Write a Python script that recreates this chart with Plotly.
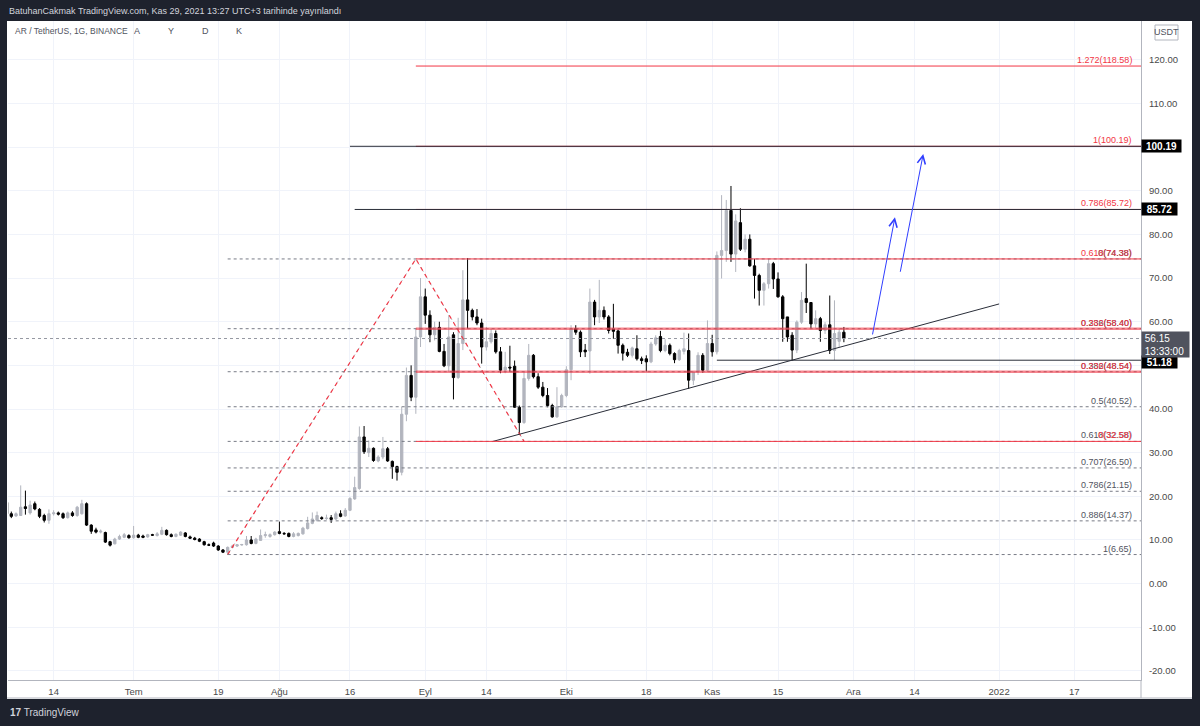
import plotly.graph_objects as go
import pandas as pd

# ---------------- candle data: AR / TetherUS, 1D, Jun 4 - Nov 29 2021 (open, high, low, close) ----------------
jun = [(18.6, 19.2, 15.5, 16.0), (16.0, 16.5, 15.0, 15.4), (15.5, 16.3, 15.3, 16.0), (15.6, 22.5, 15.5, 17.5),
       (17.6, 21.3, 15.8, 17.2), (16.2, 19.0, 15.8, 18.0), (18.3, 18.8, 16.8, 17.1), (17.0, 17.3, 15.0, 15.4),
       (15.6, 16.0, 14.0, 14.5), (14.5, 17.0, 13.7, 16.0), (16.0, 16.8, 15.6, 16.2), (16.2, 16.5, 15.6, 15.9),
       (16.0, 16.3, 14.8, 15.1), (15.1, 16.5, 14.9, 16.2), (16.2, 16.6, 15.3, 15.6), (15.6, 17.8, 15.3, 17.5),
       (16.0, 19.2, 15.8, 18.3), (18.3, 18.6, 13.2, 13.4), (13.4, 13.6, 11.4, 12.0), (12.3, 12.8, 11.5, 11.8),
       (11.8, 12.4, 11.5, 12.0), (11.7, 11.9, 9.3, 9.5), (9.6, 9.8, 8.5, 8.8), (9.1, 10.5, 9.0, 10.2),
       (10.2, 11.2, 10.0, 10.8), (10.6, 11.6, 10.4, 11.2), (11.0, 11.3, 10.3, 10.5)]
jul = [(10.5, 13.2, 10.3, 11.1), (11.1, 11.4, 10.4, 10.6), (10.9, 11.2, 10.4, 10.6), (10.7, 11.4, 10.5, 11.2),
       (11.2, 11.4, 10.9, 11.1), (11.0, 11.8, 10.8, 11.4), (11.3, 13.0, 11.1, 12.2), (12.2, 12.4, 11.0, 11.2),
       (11.2, 11.5, 10.6, 10.8), (10.8, 11.5, 10.6, 11.3), (11.1, 12.0, 10.9, 11.8), (11.6, 11.8, 10.6, 10.8),
       (10.7, 11.0, 10.2, 10.4), (10.4, 10.7, 9.9, 10.1), (10.2, 10.4, 9.5, 9.7), (9.6, 9.8, 8.7, 8.9),
       (8.9, 9.2, 8.6, 8.8), (9.3, 9.6, 8.4, 8.6), (8.6, 8.8, 7.5, 7.7), (7.7, 7.9, 7.0, 7.2),
       (7.2, 8.5, 6.65, 8.3), (8.3, 8.9, 8.1, 8.6), (8.6, 9.0, 8.4, 8.9), (8.85, 9.1, 8.7, 8.95),
       (8.9, 10.9, 8.7, 10.0), (10.0, 10.9, 9.0, 9.2), (9.2, 10.5, 9.0, 10.2), (9.9, 12.4, 9.8, 11.0),
       (11.0, 11.9, 10.5, 11.2), (10.8, 11.5, 10.5, 11.2), (11.2, 12.0, 11.0, 11.8)]
aug = [(11.9, 14.2, 11.3, 11.5), (11.5, 11.8, 11.2, 11.4), (11.5, 11.7, 10.6, 10.8), (10.8, 11.8, 10.6, 11.4),
       (11.0, 11.7, 10.8, 11.5), (11.4, 13.0, 11.2, 12.7), (12.6, 15.3, 12.4, 13.9), (13.8, 16.3, 13.6, 14.8),
       (14.5, 16.5, 14.2, 15.6), (15.1, 15.4, 14.6, 14.9), (14.9, 15.8, 14.6, 15.0), (15.1, 15.7, 13.9, 14.7),
       (14.8, 16.5, 14.6, 16.0), (16.0, 16.8, 15.2, 15.4), (15.5, 17.3, 15.3, 16.8), (16.8, 19.8, 16.6, 19.5),
       (19.4, 24.5, 19.2, 22.0), (21.8, 36.0, 21.5, 33.6), (33.6, 36.1, 29.7, 30.2), (30.0, 32.8, 29.0, 31.0),
       (31.0, 31.2, 27.9, 28.2), (28.1, 29.4, 27.8, 29.0), (29.0, 33.6, 28.5, 30.9), (30.9, 31.3, 27.9, 28.1),
       (28.0, 28.2, 24.0, 26.8), (26.8, 27.0, 23.6, 25.5), (25.5, 40.5, 24.8, 38.8), (38.8, 49.5, 37.2, 47.7),
       (47.7, 50.0, 41.8, 42.7), (42.7, 58.4, 38.9, 56.5), (56.5, 70.0, 54.2, 65.7)]
sep = [(65.7, 67.6, 59.5, 61.5), (61.5, 62.6, 55.3, 57.0), (57.0, 60.0, 55.7, 58.7), (58.7, 60.0, 53.0, 53.2),
       (53.2, 54.9, 49.6, 49.9), (49.9, 61.5, 48.5, 56.5), (57.0, 57.6, 42.2, 47.2), (47.2, 60.9, 46.9, 55.0),
       (55.0, 71.8, 53.5, 65.0), (65.0, 74.6, 58.4, 62.6), (62.6, 63.0, 60.3, 61.1), (61.1, 62.9, 59.2, 59.7),
       (59.7, 60.7, 50.4, 54.2), (54.2, 58.8, 53.4, 55.4), (55.4, 58.4, 55.0, 57.3), (57.3, 58.0, 52.7, 53.1),
       (53.1, 54.2, 48.2, 48.9), (48.9, 53.1, 48.2, 49.6), (49.6, 54.5, 48.5, 49.4), (49.8, 51.1, 40.3, 40.4),
       (40.4, 40.8, 34.3, 36.9), (36.9, 48.5, 36.6, 47.0), (47.0, 54.9, 46.5, 52.3), (52.3, 52.6, 47.0, 47.4),
       (47.4, 48.2, 44.6, 45.0), (45.0, 46.2, 42.7, 43.1), (43.1, 44.8, 40.4, 40.8), (40.8, 41.2, 38.0, 38.2),
       (38.2, 45.0, 38.0, 40.5), (40.5, 43.5, 40.3, 43.1)]
oct_ = [(43.1, 49.8, 42.7, 49.0), (49.0, 59.2, 46.6, 58.4), (58.4, 59.2, 57.0, 57.6), (57.6, 58.0, 51.9, 53.1),
        (53.5, 54.9, 51.9, 53.1), (53.3, 67.6, 48.1, 64.5), (64.5, 65.0, 59.2, 61.1), (61.1, 69.6, 59.7, 62.6),
        (62.6, 63.5, 60.5, 61.1), (61.1, 61.5, 57.3, 58.0), (58.3, 64.1, 56.1, 57.8), (57.9, 58.2, 52.7, 54.6),
        (54.6, 55.0, 51.1, 52.8), (53.0, 53.8, 51.9, 52.3), (52.3, 54.3, 51.8, 54.0), (53.8, 56.9, 51.1, 51.5),
        (51.5, 52.0, 50.3, 51.1), (51.5, 52.3, 48.6, 50.8), (50.8, 55.4, 50.5, 54.9), (54.9, 56.9, 54.5, 56.3),
        (56.6, 57.9, 53.0, 53.4), (53.4, 56.0, 53.0, 54.6), (54.6, 55.0, 52.3, 52.7), (52.7, 53.0, 50.5, 51.3),
        (51.3, 53.8, 51.0, 53.4), (53.2, 57.5, 52.5, 53.8), (53.4, 57.3, 44.6, 46.6), (46.6, 48.5, 45.5, 48.5),
        (48.5, 53.0, 47.8, 52.3), (52.3, 52.8, 48.3, 48.9), (48.9, 60.3, 48.5, 55.0)]
nov = [(55.0, 57.0, 52.0, 53.1), (53.1, 76.1, 52.5, 75.2), (75.2, 89.0, 69.9, 76.3), (76.3, 87.9, 73.7, 85.5),
       (85.5, 91.1, 73.7, 75.5), (75.5, 84.6, 71.4, 83.1), (82.7, 86.0, 76.2, 76.6), (76.6, 80.0, 75.9, 78.9),
       (78.9, 80.0, 72.6, 72.8), (72.8, 74.4, 65.3, 70.6), (70.6, 71.0, 63.7, 67.2), (67.2, 69.1, 63.7, 68.7),
       (68.7, 74.4, 67.6, 73.3), (73.3, 73.7, 67.5, 69.8), (69.8, 71.3, 65.5, 65.7), (65.7, 66.1, 55.4, 60.7),
       (61.1, 61.1, 55.4, 56.5), (56.9, 57.6, 51.1, 53.5), (53.5, 60.3, 52.8, 59.9), (59.9, 66.8, 59.5, 64.9),
       (65.3, 73.3, 62.0, 64.4), (64.4, 64.5, 58.5, 59.5), (59.5, 62.6, 58.6, 60.7), (60.7, 61.1, 55.4, 58.0),
       (58.0, 59.9, 57.2, 59.3), (59.3, 66.0, 52.6, 53.4), (53.4, 64.9, 51.2, 57.3), (55.5, 58.5, 54.2, 57.6),
       (57.6, 58.8, 55.3, 56.15)]

rows = jun + jul + aug + sep + oct_ + nov
dates = pd.date_range("2021-06-04", periods=len(rows), freq="D")
opens = [r[0] for r in rows]
highs = [r[1] for r in rows]
lows = [r[2] for r in rows]
closes = [r[3] for r in rows]

# ---------------- axes ----------------
x_range = ["2021-06-04 07:10", "2022-01-31 04:00"]
y_range = [-22.09, 128.9]
time_tick_dates = ["2021-06-14", "2021-07-01", "2021-07-19", "2021-08-01", "2021-08-16", "2021-09-01",
                   "2021-09-14", "2021-10-01", "2021-10-18", "2021-11-01", "2021-11-15", "2021-12-01",
                   "2021-12-14", "2022-01-01", "2022-01-17"]
time_tick_labels = ["14", "Tem", "19", "Ağu", "16", "Eyl", "14", "Eki", "18", "Kas", "15", "Ara", "14", "2022", "17"]
price_ticks = [-20, -10, 0, 10, 20, 30, 40, 50, 60, 70, 80, 90, 100, 110, 120]
hidden_price_ticks = [50, 100]   # covered by the price tags in the source
price_tick_labels = ["" if v in hidden_price_ticks else f"{v:.2f}" for v in price_ticks]

# ---------------- drawings ----------------
fib_start_date = "2021-07-21"      # retracement anchor (low)
fib_ext_start_date = "2021-08-30"  # extension anchor (high)
ret_levels = [74.38, 58.40, 48.54, 40.52, 32.58, 26.50, 21.15, 14.37, 6.65]
ret_labels = ["0(74.38)", "0.236(58.40)", "0.382(48.54)", "0.5(40.52)", "0.618(32.58)",
              "0.707(26.50)", "0.786(21.15)", "0.886(14.37)", "1(6.65)"]
ext_levels = [32.58, 48.54, 58.40, 74.38, 85.72, 100.19, 118.58]
ext_labels = ["0(32.58)", "0.236(48.54)", "0.382(58.40)", "0.618(74.38)", "0.786(85.72)", "1(100.19)", "1.272(118.58)"]
ext_thick = [False, True, True, False, False, False, False]

zigzag_dates = ["2021-07-21", "2021-08-30", "2021-09-22"]
zigzag_prices = [6.65, 74.38, 32.58]

trend_dates = ["2021-09-15 05:00", "2022-01-01"]
trend_prices = [32.52, 64.07]

hlines = [(100.19, "2021-08-16"), (85.72, "2021-08-17"), (51.18, "2021-11-02")]
last_price = 56.15
last_time = "13:33:00"

arrows = [  # (tail date, tail price, head date, head price)
    ("2021-12-05 00:40", 56.74, "2021-12-09 20:40", 83.94),
    ("2021-12-10 22:20", 71.10, "2021-12-15 21:00", 98.44),
]

UP = "#b2b5be"
DOWN = "#000000"
RED = "#f23645"
FONT = "Liberation Sans, Arial, sans-serif"
AX_TXT = "#4a4a4a"
NB = "\u00a0"

fig = go.Figure()
fig.add_trace(go.Candlestick(
    x=dates, open=opens, high=highs, low=lows, close=closes,
    increasing=dict(line=dict(color=UP, width=1), fillcolor=UP),
    decreasing=dict(line=dict(color=DOWN, width=1), fillcolor=DOWN),
    whiskerwidth=0, hoverinfo="skip", showlegend=False))

# zigzag of the fib tool (gray dotted under red dashed)
fig.add_trace(go.Scatter(x=zigzag_dates, y=zigzag_prices, mode="lines",
                         line=dict(color="#9598a1", width=1, dash="1px,3px"), hoverinfo="skip", showlegend=False))
fig.add_trace(go.Scatter(x=zigzag_dates, y=zigzag_prices, mode="lines",
                         line=dict(color=RED, width=1.2, dash="4px,4px"), hoverinfo="skip", showlegend=False))
# trend line
fig.add_trace(go.Scatter(x=trend_dates, y=trend_prices, mode="lines",
                         line=dict(color="#2a2e39", width=1), hoverinfo="skip", showlegend=False))

shapes = []
# last price dotted line
shapes.append(dict(type="line", xref="x", yref="y", x0=x_range[0], x1=x_range[1], y0=last_price, y1=last_price,
                   line=dict(color="#9598a1", width=1, dash="dot")))
# retracement dotted lines
for lv in ret_levels:
    shapes.append(dict(type="line", xref="x", yref="y", x0=fib_start_date, x1=x_range[1], y0=lv, y1=lv,
                       line=dict(color="#787b86", width=1, dash="dot")))
# extension red lines
for lv, thick in zip(ext_levels, ext_thick):
    shapes.append(dict(type="line", xref="x", yref="y", x0=fib_ext_start_date, x1=x_range[1], y0=lv, y1=lv,
                       line=dict(color="rgba(242,54,69,0.6)" if thick else RED, width=2.5 if thick else 1)))
# user horizontal lines
for lv, d0 in hlines:
    shapes.append(dict(type="line", xref="x", yref="y", x0=d0, x1=x_range[1], y0=lv, y1=lv,
                       line=dict(color="#2a2e39", width=1)))

# ---- frame (pixel geometry converted to paper coords) ----
L, R, T, B = 8, 59, 21, 46
W, H = 1200, 726
PW, PH = W - L - R, H - T - B
def px(xp): return (xp - L) / PW
def py(yp): return 1 - (yp - T) / PH

DARK = "#1e222d"
frame = [
    dict(type="rect", xref="paper", yref="paper", x0=px(-5), x1=px(W + 5), y0=py(T), y1=py(-5)),
    dict(type="rect", xref="paper", yref="paper", x0=px(-5), x1=px(W + 5), y0=py(H + 5), y1=py(699)),
    dict(type="rect", xref="paper", yref="paper", x0=px(-5), x1=px(7), y0=py(H + 5), y1=py(-5)),
    dict(type="rect", xref="paper", yref="paper", x0=px(1192), x1=px(W + 5), y0=py(H + 5), y1=py(-5)),
]
for f in frame:
    f.update(fillcolor=DARK, line=dict(width=0), layer="above")
shapes += [
    dict(type="line", xref="paper", yref="paper", x0=px(7), x1=px(1192), y0=py(698), y1=py(698),
         line=dict(color="#b2b5be", width=1)),
    dict(type="line", xref="paper", yref="paper", x0=1, x1=1, y0=py(698), y1=0,
         line=dict(color="#b2b5be", width=1)),
    dict(type="rect", xref="paper", yref="paper", x0=px(1155), x1=px(1178), y0=py(40), y1=py(25),
         line=dict(color="#b2b5be", width=1), fillcolor="white"),
]
shapes += frame

ann = []
# fib labels (gray retracement + red extension, overlapping as in the source)
LBL_X = px(1134)
for lv, t in zip(ret_levels, ret_labels):
    ann.append(dict(xref="paper", yref="y", x=LBL_X, y=lv, text=t, showarrow=False, xanchor="right",
                    yanchor="middle", yshift=6, font=dict(family=FONT, size=9, color="#50535e")))
for lv, t in zip(ext_levels, ext_labels):
    ann.append(dict(xref="paper", yref="y", x=LBL_X, y=lv, text=t, showarrow=False, xanchor="right",
                    yanchor="middle", yshift=6, font=dict(family=FONT, size=9, color=RED)))
# price-scale tags
for lv, wdt, ysh in [(100.19, 39, 0), (85.72, 35, 0), (51.18, 35, -2)]:
    ann.append(dict(xref="paper", yref="y", x=1, y=lv, text=f"<b>{lv:.2f}</b>", showarrow=False, xanchor="left",
                    yanchor="middle", yshift=ysh, bgcolor="#000000", width=wdt, height=12, borderpad=0,
                    font=dict(family=FONT, size=10, color="white")))
ann.append(dict(xref="paper", yref="y", x=1, y=last_price,
                text=f"{NB}{last_price:.2f}<br>{NB}{last_time}", showarrow=False,
                xanchor="left", yanchor="middle", yshift=-6, bgcolor="#50535e", width=47, height=25, borderpad=0,
                align="left", font=dict(family=FONT, size=10, color="white")))
ann.append(dict(xref="paper", yref="paper", x=px(1166.5), y=py(32.5), text="USDT", showarrow=False,
                xanchor="center", yanchor="middle", font=dict(family=FONT, size=9, color="#50535e")))
# arrows
for t_d, t_p, h_d, h_p in arrows:
    ann.append(dict(xref="x", yref="y", axref="x", ayref="y", x=h_d, y=h_p, ax=t_d, ay=t_p, text="",
                    showarrow=True, arrowhead=5, arrowsize=1.6, arrowwidth=1, arrowcolor="#2f3dff", standoff=0))
# header / legend / footer
ann.append(dict(xref="paper", yref="paper", x=px(7), y=py(11), text="BatuhanCakmak TradingView.com, Kas 29, 2021 13:27 UTC+3 tarihinde yayınlandı",
                showarrow=False, xanchor="left", yanchor="middle", font=dict(family=FONT, size=9, color="#d1d4dc")))
ann.append(dict(xref="paper", yref="paper", x=px(13), y=py(31.5), text="AR / TetherUS, 1G, BINANCE",
                showarrow=False, xanchor="left", yanchor="middle", font=dict(family=FONT, size=8.5, color="#50535e")))
for t, xp in [("A", 137), ("Y", 170.5), ("D", 205), ("K", 238.5)]:
    ann.append(dict(xref="paper", yref="paper", x=px(xp), y=py(31.5), text=t, showarrow=False,
                    xanchor="center", yanchor="middle", font=dict(family=FONT, size=9, color="#50535e")))
ann.append(dict(xref="paper", yref="paper", x=px(8), y=py(712), text="<b>17</b> TradingView", showarrow=False,
                xanchor="left", yanchor="middle", font=dict(family=FONT, size=10, color="#d1d4dc")))

fig.update_layout(
    width=W, height=H, autosize=False,
    margin=dict(l=L, r=R, t=T, b=B, pad=0),
    paper_bgcolor="white", plot_bgcolor="white",
    showlegend=False, hovermode=False,
    shapes=shapes, annotations=ann,
    xaxis=dict(type="date", range=x_range, tickvals=time_tick_dates, ticktext=time_tick_labels,
               showgrid=True, gridcolor="#f0f3fa", gridwidth=1, showline=True, linecolor="#b2b5be",
               ticks="outside", ticklen=3, tickcolor="rgba(0,0,0,0)",
               tickfont=dict(family=FONT, size=9.5, color=AX_TXT), rangeslider=dict(visible=False), fixedrange=True),
    yaxis=dict(side="right", range=y_range, tickvals=price_ticks, ticktext=price_tick_labels,
               showgrid=True, gridcolor="#f0f3fa", gridwidth=1, zeroline=False, showline=True, linecolor="#b2b5be",
               ticks="outside", ticklen=5, tickcolor="rgba(0,0,0,0)",
               tickfont=dict(family=FONT, size=9.5, color=AX_TXT), fixedrange=True),
)

fig.write_html("out.html")
